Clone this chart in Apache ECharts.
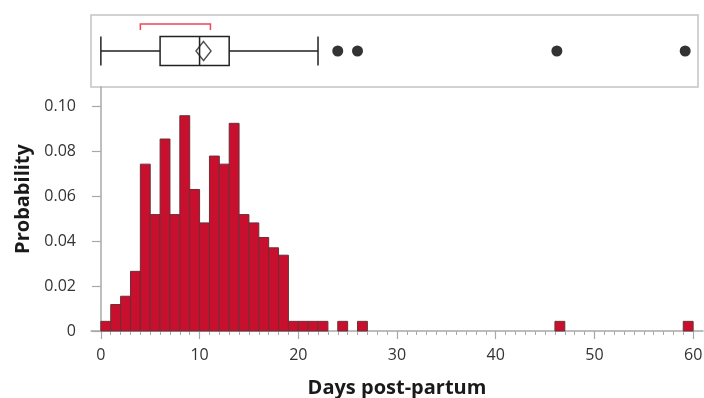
<!DOCTYPE html>
<html>
<head>
<meta charset="utf-8">
<script src="https://cdn.jsdelivr.net/npm/echarts@6/dist/echarts.min.js"></script>
<style>
  html, body { margin: 0; padding: 0; background: #fff; }
  #chart { width: 704px; height: 398px; }
</style>
</head>
<body>
<div id="chart"></div>
<script>
// histogram bins (1 day wide) and their probabilities
const binLow = [0, 1, 2, 3, 4, 5, 6, 7, 8, 9, 10, 11, 12, 13, 14, 15, 16, 17, 18, 19, 20, 21, 22, 24, 26, 46, 59];
const binProb = [0.0043, 0.0118, 0.0155, 0.0266, 0.0744, 0.0519, 0.0856, 0.0519, 0.0960, 0.0631,
  0.0482, 0.0780, 0.0744, 0.0926, 0.0519, 0.0482, 0.0417, 0.0371, 0.0338, 0.0043,
  0.0043, 0.0043, 0.0043, 0.0043, 0.0043, 0.0043, 0.0043];
const binWidth = 1;

// outlier box plot summary: min whisker, Q1, median, Q3, max whisker
const boxStats = [0, 6, 10, 13, 22];
const outliers = [24, 26, 46.2, 59.2];
const meanValue = 10.4;
const shortestHalf = [4, 11.1];

const xTicks = [0, 10, 20, 30, 40, 50, 60];
const xMinorTicks = Array.from({ length: 61 }, (_, i) => i);
const yTicks = [0, 0.02, 0.04, 0.06, 0.08, 0.10];

const FONT = '"Open Sans", "Noto Sans", sans-serif';
const AXIS_GRAY = '#a8a8a8';
const TEXT = '#333';
const BAR_RED = '#c8102e';

const chart = echarts.init(document.getElementById('chart'));

chart.setOption({
  animation: false,
  textStyle: { fontFamily: FONT },
  grid: [
    { left: 91, top: 15, width: 607, height: 72, show: true, borderColor: '#c4c4c4', borderWidth: 1.5, outerBoundsMode: 'none' },
    { left: 91, top: 87, width: 612, height: 244, outerBoundsMode: 'none' },
  ],
  xAxis: [
    { gridIndex: 0, type: 'value', min: -1, max: 60.5, show: false },
    {
      gridIndex: 1, type: 'value', min: -1, max: 61,
      name: 'Days post-partum', nameLocation: 'middle', nameGap: 47,
      nameTextStyle: { fontSize: 20, fontWeight: 'bold', color: '#1a1a1a' },
      axisLine: { lineStyle: { color: AXIS_GRAY, width: 1.5 } },
      axisTick: { customValues: xTicks, length: 8, lineStyle: { color: AXIS_GRAY, width: 1.2 } },
      axisLabel: { customValues: xTicks, fontSize: 16, color: TEXT, margin: 16 },
      splitLine: { show: false },
    },
    {
      gridIndex: 1, type: 'value', min: -1, max: 61, position: 'bottom',
      axisLine: { show: false },
      axisTick: { customValues: xMinorTicks, length: 4, lineStyle: { color: AXIS_GRAY, width: 1 } },
      axisLabel: { show: false },
      splitLine: { show: false },
    },
  ],
  yAxis: [
    { gridIndex: 0, type: 'category', data: ['Days'], show: false },
    {
      gridIndex: 1, type: 'value', min: 0, max: 0.1088,
      name: 'Probability', nameLocation: 'middle', nameGap: 53,
      nameTextStyle: { fontSize: 20, fontWeight: 'bold', color: '#1a1a1a', padding: [0, 0, 0, 20] },
      axisLine: { show: true, lineStyle: { color: AXIS_GRAY, width: 1.5 } },
      axisTick: { show: true, customValues: yTicks, length: 9, lineStyle: { color: AXIS_GRAY, width: 1.2 } },
      axisLabel: {
        customValues: yTicks, fontSize: 16, color: TEXT, margin: 15,
        formatter: (v) => (v === 0 ? '0' : v.toFixed(2)),
      },
      splitLine: { show: false },
    },
  ],
  series: [
    {
      type: 'boxplot',
      xAxisIndex: 0, yAxisIndex: 0,
      boxWidth: [29, 29],
      data: [boxStats],
      itemStyle: { color: '#fff', borderColor: '#222', borderWidth: 1.5 },
      silent: true,
    },
    {
      type: 'scatter',
      xAxisIndex: 0, yAxisIndex: 0,
      symbol: 'diamond',
      symbolSize: [15, 19],
      data: [[meanValue, 0]],
      itemStyle: { color: 'rgba(255,255,255,0)', borderColor: '#222', borderWidth: 1.5 },
      silent: true,
      z: 5,
    },
    {
      type: 'scatter',
      xAxisIndex: 0, yAxisIndex: 0,
      symbol: 'circle',
      symbolSize: 11,
      data: outliers.map((v) => [v, 0]),
      itemStyle: { color: '#000' },
      silent: true,
    },
    {
      type: 'custom',
      xAxisIndex: 0, yAxisIndex: 0,
      data: [[shortestHalf[0], shortestHalf[1]]],
      encode: { x: [0, 1] },
      renderItem: (params, api) => {
        const top = params.coordSys.y + 9;
        const a = api.coord([api.value(0), 0])[0];
        const b = api.coord([api.value(1), 0])[0];
        return {
          type: 'polyline',
          shape: { points: [[a, top + 6], [a, top], [b, top], [b, top + 6]] },
          style: { stroke: '#f0445a', lineWidth: 1.5, fill: null },
        };
      },
      silent: true,
    },
    {
      type: 'custom',
      xAxisIndex: 1, yAxisIndex: 1,
      data: binLow.map((lo, i) => [lo, lo + binWidth, binProb[i]]),
      encode: { x: [0, 1], y: 2 },
      renderItem: (params, api) => {
        const p0 = api.coord([api.value(0), api.value(2)]);
        const p1 = api.coord([api.value(1), 0]);
        return {
          type: 'rect',
          shape: { x: p0[0], y: p0[1], width: p1[0] - p0[0], height: p1[1] - p0[1] },
          style: { fill: BAR_RED, stroke: '#6a3038', lineWidth: 1 },
        };
      },
      silent: true,
    },
  ],
});
</script>
</body>
</html>
